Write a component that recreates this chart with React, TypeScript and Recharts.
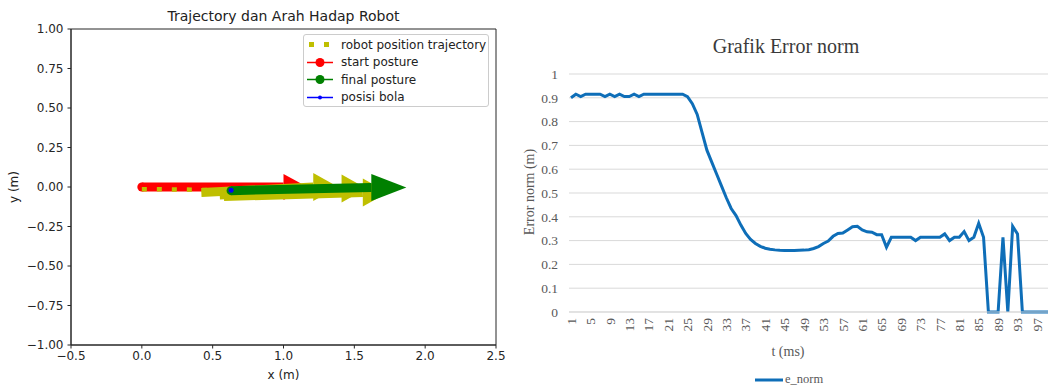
import React from 'react';
import {
  ScatterChart,
  Scatter,
  LineChart,
  Line,
  XAxis,
  YAxis,
  CartesianGrid,
  ReferenceArea,
  Legend,
} from 'recharts';

// ---- trajectory plot (left) ----
const xTicks = [-0.5, 0, 0.5, 1, 1.5, 2, 2.5];
const yTicks = [-1, -0.75, -0.5, -0.25, 0, 0.25, 0.5, 0.75, 1];

// dashed robot path
const trajectoryX = [0.0, 0.1, 0.2, 0.3, 0.4, 0.5, 0.63];
const trajectoryY = [-0.014, -0.014, -0.015, -0.016, -0.018, -0.021, -0.023];

// arrows: [tail, head base]
const startArrowX = [0, 1.0];
const startArrowY = [0, 0];
const pathArrowsX = [
  [0.42, 1.21],
  [0.55, 1.41],
  [0.58, 1.56],
];
const pathArrowsY = [
  [-0.035, 0.0],
  [-0.05, -0.01],
  [-0.06, -0.035],
];
const finalArrowX = [0.63, 1.62];
const finalArrowY = [-0.023, -0.003];

const startPosture = [{ x: 0, y: 0 }];
const finalPosture = [{ x: 0.63, y: -0.023 }];
const ballPosition = [{ x: 0.63, y: -0.021 }];

// ---- error norm plot (right) ----
const eNorm = [
  0.9, 0.915, 0.905, 0.915, 0.915, 0.915, 0.915, 0.905, 0.915, 0.905,
  0.915, 0.905, 0.905, 0.915, 0.905, 0.915, 0.915, 0.915, 0.915, 0.915,
  0.915, 0.915, 0.915, 0.915, 0.905, 0.875, 0.83, 0.755, 0.68, 0.63,
  0.58, 0.53, 0.48, 0.435, 0.405, 0.365, 0.33, 0.305, 0.288, 0.276,
  0.268, 0.264, 0.261, 0.259, 0.258, 0.258, 0.258, 0.259, 0.26, 0.262,
  0.267, 0.275, 0.288, 0.298, 0.318, 0.33, 0.332, 0.345, 0.358, 0.36,
  0.345, 0.337, 0.335, 0.325, 0.325, 0.272, 0.314, 0.314, 0.314, 0.314,
  0.314, 0.3, 0.314, 0.314, 0.314, 0.314, 0.314, 0.328, 0.3, 0.314,
  0.314, 0.338, 0.3, 0.314, 0.373, 0.314, 0, 0, 0, 0.314,
  0, 0.36, 0.328, 0, 0, 0, 0, 0, 0, 0,
];
const timeSteps = eNorm.map((_, i) => i + 1);
const errorTicks = [0, 0.1, 0.2, 0.3, 0.4, 0.5, 0.6, 0.7, 0.8, 0.9, 1];

const errorData = timeSteps.map((t, i) => ({ t, e_norm: eNorm[i] }));

const RED = '#ff0000';
const GREEN = '#008000';
const YELLOW = '#bfbf00';
const BLUE = '#0000ff';
const AXIS = '#262626';
const MPL_FONT = '"DejaVu Sans", sans-serif';
const XL_FONT = '"Liberation Serif", serif';
const XL_TEXT = '#595959';
const XL_BLUE = '#0e6eb8';

const toArrow = (xs: number[], ys: number[]) => [
  { x: xs[0], y: ys[0] },
  { x: xs[1], y: ys[1], head: true },
];

const trajectory = trajectoryX.map((x, i) => ({ x, y: trajectoryY[i] }));

const mplNum = (digits: number) => (v: number) =>
  v < 0 ? '\u2212' + Math.abs(v).toFixed(digits) : v.toFixed(digits);

// triangle head drawn at the head-base point of an arrow
const headShape = (color: string, length: number, half: number) => (props: any) => {
  const { cx, cy, payload } = props;
  if (!payload || !payload.head || cx == null) return <g />;
  return (
    <polygon
      points={`${cx},${cy - half} ${cx + length},${cy} ${cx},${cy + half}`}
      fill={color}
    />
  );
};

const dot = (color: string, r: number) => (props: any) =>
  <circle cx={props.cx} cy={props.cy} r={r} fill={color} />;

const noShape = () => <g />;

const TrajectoryLegend = () => {
  const rows = [
    { label: 'robot position trajectory', kind: 'dash', color: YELLOW },
    { label: 'start posture', kind: 'marker', color: RED, r: 4.5 },
    { label: 'final posture', kind: 'marker', color: GREEN, r: 4.5 },
    { label: 'posisi bola', kind: 'marker', color: BLUE, r: 2 },
  ];
  return (
    <div
      style={{
        width: 186,
        height: 73,
        boxSizing: 'border-box',
        border: '1px solid #cccccc',
        borderRadius: 3,
        background: 'rgba(255,255,255,0.85)',
        paddingTop: 1,
      }}
    >
      {rows.map((row) => (
        <div key={row.label} style={{ display: 'flex', alignItems: 'center', height: 17.5 }}>
          <svg width={37} height={17} style={{ flex: 'none' }}>
            {row.kind === 'dash' ? (
              <>
                <rect x={5} y={6} width={5} height={5} fill={row.color} />
                <rect x={20} y={6} width={5} height={5} fill={row.color} />
              </>
            ) : (
              <>
                <line x1={3} x2={29} y1={8.5} y2={8.5} stroke={row.color} strokeWidth={1.5} />
                <circle cx={16} cy={8.5} r={row.r} fill={row.color} />
              </>
            )}
          </svg>
          <span style={{ fontFamily: MPL_FONT, fontSize: 12, color: '#222', whiteSpace: 'nowrap' }}>
            {row.label}
          </span>
        </div>
      ))}
    </div>
  );
};

const ErrorLegend = () => (
  <div style={{ display: 'flex', alignItems: 'center' }}>
    <svg width={30} height={10}>
      <line x1={0} x2={28} y1={5} y2={5} stroke={XL_BLUE} strokeWidth={3} />
    </svg>
    <span style={{ fontFamily: XL_FONT, fontSize: 12.5, color: XL_TEXT }}>e_norm</span>
  </div>
);

const RotatedTick = (props: any) => {
  const { x, y, payload } = props;
  return (
    <text
      x={x}
      y={y}
      transform={`rotate(-90 ${x} ${y})`}
      textAnchor="end"
      dy="0.35em"
      fontFamily={XL_FONT}
      fontSize={13.5}
      fill={XL_TEXT}
    >
      {payload.value}
    </text>
  );
};

const centered = (cx: number, cy: number, w: number, h: number): React.CSSProperties => ({
  position: 'absolute',
  left: cx - w / 2,
  top: cy - h / 2,
  width: w,
  height: h,
  lineHeight: `${h}px`,
  textAlign: 'center',
  whiteSpace: 'nowrap',
});

export default function App() {
  return (
    <div
      style={{
        position: 'absolute',
        left: 0,
        top: 0,
        width: 1048,
        height: 390,
        overflow: 'hidden',
        background: '#ffffff',
      }}
    >
      {/* left: trajectory and heading */}
      <div style={{ position: 'absolute', left: 0, top: 0 }}>
        <ScatterChart width={515} height={390} margin={{ top: 29, right: 19, bottom: 0, left: 13 }}>
          <XAxis
            type="number"
            dataKey="x"
            domain={[-0.5, 2.5]}
            ticks={xTicks}
            tickFormatter={mplNum(1)}
            height={45}
            tickSize={3.5}
            tickMargin={3}
            stroke={AXIS}
            tick={{ fill: AXIS, fontSize: 12, fontFamily: MPL_FONT }}
            allowDataOverflow
          />
          <YAxis
            type="number"
            dataKey="y"
            domain={[-1, 1]}
            ticks={yTicks}
            tickFormatter={mplNum(2)}
            width={58}
            tickSize={3.5}
            tickMargin={4}
            stroke={AXIS}
            tick={{ fill: AXIS, fontSize: 12, fontFamily: MPL_FONT }}
            allowDataOverflow
          />
          <ReferenceArea x1={-0.5} x2={2.5} y1={-1} y2={1} fill="none" stroke={AXIS} strokeWidth={1} />
          <Scatter
            data={toArrow(startArrowX, startArrowY)}
            fill={RED}
            line={{ stroke: RED, strokeWidth: 9 }}
            shape={headShape(RED, 24, 13)}
            isAnimationActive={false}
          />
          <Scatter data={startPosture} fill={RED} shape={dot(RED, 4.5)} isAnimationActive={false} />
          <Scatter
            data={trajectory}
            fill={YELLOW}
            line={{ stroke: YELLOW, strokeWidth: 4.5, strokeDasharray: '5 10' }}
            shape={noShape}
            isAnimationActive={false}
          />
          {pathArrowsX.map((xs, i) => (
            <Scatter
              key={i}
              data={toArrow(xs, pathArrowsY[i])}
              fill={YELLOW}
              line={{ stroke: YELLOW, strokeWidth: 9 }}
              shape={headShape(YELLOW, 25, 14)}
              isAnimationActive={false}
            />
          ))}
          <Scatter
            data={toArrow(finalArrowX, finalArrowY)}
            fill={GREEN}
            line={{ stroke: GREEN, strokeWidth: 9 }}
            shape={headShape(GREEN, 35, 13.5)}
            isAnimationActive={false}
          />
          <Scatter data={finalPosture} fill={GREEN} shape={dot(GREEN, 4.5)} isAnimationActive={false} />
          <Scatter data={ballPosition} fill={BLUE} shape={dot(BLUE, 2.5)} isAnimationActive={false} />
          <Legend
            layout="vertical"
            align="center"
            verticalAlign="middle"
            content={<TrajectoryLegend />}
            wrapperStyle={{ left: 303, top: 34, width: 186 }}
          />
        </ScatterChart>
        <div style={{ ...centered(283.5, 16, 320, 18), fontFamily: MPL_FONT, fontSize: 14, color: '#222' }}>
          Trajectory dan Arah Hadap Robot
        </div>
        <div style={{ ...centered(283.5, 375, 60, 16), fontFamily: MPL_FONT, fontSize: 12, color: '#222' }}>
          x (m)
        </div>
        <div
          style={{
            ...centered(14, 187, 60, 16),
            transform: 'rotate(-90deg)',
            fontFamily: MPL_FONT,
            fontSize: 12,
            color: '#222',
          }}
        >
          y (m)
        </div>
      </div>

      {/* right: error norm over time */}
      <div style={{ position: 'absolute', left: 515, top: 0 }}>
        <LineChart width={545} height={390} data={errorData} margin={{ top: 74, right: 6.5, bottom: 0, left: 0 }}>
          <CartesianGrid vertical={false} stroke="#d9d9d9" />
          <XAxis
            dataKey="t"
            interval={3}
            height={78}
            padding={{ left: 2, right: 2 }}
            tickLine={false}
            tickMargin={0}
            stroke="#d9d9d9"
            tick={<RotatedTick />}
          />
          <YAxis
            domain={[0, 1]}
            ticks={errorTicks}
            width={54}
            axisLine={false}
            tickLine={false}
            tickMargin={5}
            tick={{ fill: XL_TEXT, fontSize: 13.5, fontFamily: XL_FONT }}
          />
          <Line
            type="linear"
            dataKey="e_norm"
            stroke={XL_BLUE}
            strokeWidth={3}
            dot={false}
            isAnimationActive={false}
          />
          <Legend
            layout="vertical"
            align="center"
            verticalAlign="middle"
            content={<ErrorLegend />}
            wrapperStyle={{ left: 240, top: 372, width: 100 }}
          />
        </LineChart>
      </div>
      <div style={{ ...centered(786, 46, 240, 24), fontFamily: XL_FONT, fontSize: 20, color: '#3a3a3a' }}>
        Grafik Error norm
      </div>
      <div style={{ ...centered(788, 352, 80, 18), fontFamily: XL_FONT, fontSize: 14, color: XL_TEXT }}>
        t (ms)
      </div>
      <div
        style={{
          ...centered(530, 192, 130, 18),
          transform: 'rotate(-90deg)',
          fontFamily: XL_FONT,
          fontSize: 14,
          color: XL_TEXT,
        }}
      >
        Error norm (m)
      </div>
    </div>
  );
}
